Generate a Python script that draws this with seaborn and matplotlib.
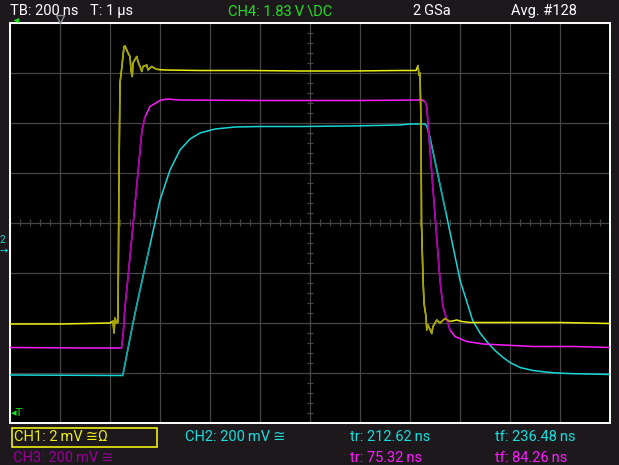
import numpy as np
import pandas as pd
import seaborn as sns
import matplotlib.pyplot as plt
from matplotlib.patches import Rectangle, FancyArrowPatch

# traces: time in ns relative to trigger, level in screen divisions
t_ch1 = [-200, 0, 200, 212, 216, 220, 226, 232, 236, 240,
         247, 256, 260, 267, 272, 280, 284, 289, 292, 307,
         312, 320, 327, 332, 347, 352, 367, 380, 392, 420,
         560, 760, 960, 1160, 1360, 1424, 1432, 1436, 1440, 1444,
         1446, 1452, 1456, 1460, 1464, 1467, 1472, 1487, 1492, 1507,
         1520, 1540, 1560, 1587, 1607, 1640, 1760, 2000, 2200]
v_ch1 = [-2.02, -2.02, -2.0, -1.96, -2.2, -1.9, -2.0, -1.98, 1.0, 2.8,
         3.1, 3.53, 3.54, 3.46, 3.4, 3.33, 3.06, 2.93, 3.2, 3.33,
         3.23, 3.13, 3.03, 3.13, 3.16, 3.06, 3.13, 3.09, 3.07, 3.06,
         3.05, 3.05, 3.04, 3.04, 3.05, 3.05, 3.15, 2.95, 3.0, 2.0,
         0.0, -1.1, -1.6, -1.74, -1.87, -2.14, -2.04, -2.21, -2.07, -1.94,
         -2.0, -1.91, -1.97, -1.94, -1.97, -1.99, -1.99, -1.99, -2.01]

t_ch2 = [-200, 248, 251, 292, 320, 360, 400, 440, 480, 520,
         560, 620, 700, 800, 960, 1160, 1360, 1400, 1460, 1467,
         1472, 1480, 1488, 1544, 1600, 1650, 1680, 1712, 1740, 1770,
         1800, 1840, 1892, 1960, 2028, 2200]
v_ch2 = [-3.04, -3.05, -3.05, -2.0, -1.34, -0.44, 0.46, 1.06, 1.46, 1.68,
         1.8, 1.88, 1.92, 1.93, 1.93, 1.94, 1.96, 1.98, 1.98, 1.94,
         1.86, 1.7, 1.52, 0.2, -1.14, -1.94, -2.2, -2.4, -2.55, -2.68,
         -2.79, -2.89, -2.95, -2.99, -3.01, -3.03]

t_ch3 = [-200, 100, 246, 253, 260, 267, 296, 328, 340, 360, 400,
         427, 480, 800, 1200, 1448, 1460, 1467, 1472, 1480, 1500,
         1520, 1532, 1560, 1580, 1627, 1692, 1892, 2052, 2200]
v_ch3 = [-2.49, -2.5, -2.5, -2.2, -1.67, -1.34, 0.16, 1.86, 2.12, 2.33, 2.45,
         2.48, 2.46, 2.45, 2.45, 2.46, 2.43, 2.33, 2.0, 1.46, 0.16,
         -1.14, -1.68, -2.14, -2.27, -2.37, -2.42, -2.47, -2.47, -2.49]

trig_time = 0

# (colour, edge colour, edge time windows)
channels = {
    "CH2": (t_ch2, v_ch2, "#19d6d6", "#0fa3a3", [(250, 360), (1465, 1560)]),
    "CH3": (t_ch3, v_ch3, "#ff1cff", "#a800a8", [(246, 350), (1455, 1560)]),
    "CH1": (t_ch1, v_ch1, "#eeee10", "#a2a200", [(205, 400), (1428, 1580)]),
}

sns.set_style("dark")
plt.rcParams["font.family"] = ["Roboto", "DejaVu Sans"]

fig = plt.figure(figsize=(6.19, 4.65), dpi=100, facecolor="#1c181c")
ax = fig.add_axes([10 / 619, 42 / 465, 600 / 619, 400 / 465])
ax.set_facecolor("black")

for name, (t, v, col, edge_col, windows) in channels.items():
    df = pd.DataFrame({"t": t, "v": v})
    sns.lineplot(data=df, x="t", y="v", ax=ax, color=col, lw=1.1,
                 estimator=None, sort=False, zorder=3)
    parts = []
    for k, (a, b) in enumerate(windows):
        p = df[(df.t >= a) & (df.t <= b)].copy()
        p["w"] = k
        parts.append(p)
    edges = pd.concat(parts)
    sns.lineplot(data=edges, x="t", y="v", units="w", ax=ax, color=edge_col,
                 lw=1.1, estimator=None, sort=False, zorder=4)

ax.set_xlim(-200, 2200)
ax.set_ylim(-4, 4)
ax.set_xticks(np.arange(-200, 2201, 200))
ax.set_yticks(np.arange(-4, 5, 1))
ax.set_axisbelow(True)
ax.grid(True, color="#454545", lw=0.9)
ax.tick_params(length=0, labelbottom=False, labelleft=False)
ax.set(xlabel=None, ylabel=None)
for s in ax.spines.values():
    s.set_color("white")
    s.set_linewidth(1.4)

# centre graticule ticks
ax.vlines(np.arange(-200, 2201, 40), -0.07, 0.07, color="#454545", lw=0.9, zorder=1)
ax.hlines(np.arange(-4, 4.01, 0.2), 988, 1012, color="#454545", lw=0.9, zorder=1)

# trigger position marker
ax.plot([trig_time], [4.08], marker="v", ms=6, mfc="none", mec="#8a8a8a",
        mew=1.0, clip_on=False, zorder=6)


def label(x, y, s, color="white", **kw):
    fig.text(x / 619, 1 - y / 465, s, color=color, va="center", ha="left",
             fontsize=kw.pop("fontsize", 10.5), **kw)


thin = "\u2009"
label(10, 11, f"TB: 200{thin}ns")
label(90, 11, f"T: 1{thin}\u00b5s")
label(228, 11, f"CH4: 1.83{thin}V{thin}\\DC", color="#22dd22")
label(413, 11, f"2{thin}GSa")
label(511, 11, "Avg. #128")
# small green pointer at the top-left corner
fig.patches.append(FancyArrowPatch((18 / 619, 1 - 20.5 / 465), (11 / 619, 1 - 20.5 / 465),
                                   transform=fig.transFigure, arrowstyle="-|>",
                                   mutation_scale=6, color="#22dd22", lw=1.0))

label(14, 437, f"CH1: 2{thin}mV{thin}\u2245\u03a9", color="#eeee10")
fig.patches.append(Rectangle((12 / 619, 1 - 447 / 465), 145 / 619, 19 / 465,
                             transform=fig.transFigure, fill=False,
                             ec="#eeee10", lw=1.2))
label(185, 437, f"CH2: 200{thin}mV{thin}\u2245", color="#19dede")
label(350, 437, f"tr: 212.62{thin}ns", color="#19dede")
label(495, 437, f"tf: 236.48{thin}ns", color="#19dede")
label(13, 458, f"CH3: 200{thin}mV{thin}\u2245", color="#980098")
label(350, 458, f"tr: 75.32{thin}ns", color="#ff1cff")
label(495, 458, f"tf: 84.26{thin}ns", color="#ff1cff")

label(0, 240, "2", color="#19dede", fontsize=7)
label(0, 251, "\u2192", color="#19dede", fontsize=7, family=["DejaVu Sans"])
label(11, 413, "\u25c2T", color="#22dd22", fontsize=8, family=["DejaVu Sans"])

fig.savefig("out.png", dpi=100, facecolor=fig.get_facecolor())
